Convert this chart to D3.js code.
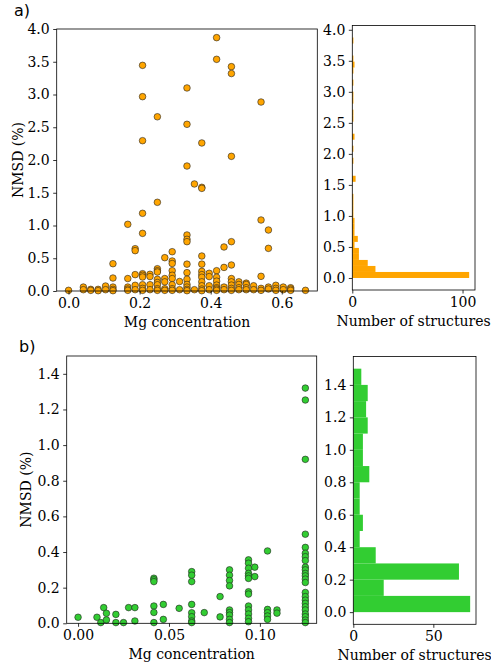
<!DOCTYPE html>
<html><head><meta charset="utf-8">
<script src="https://cdn.jsdelivr.net/npm/d3@7"></script>
<style>
html,body{margin:0;padding:0;background:#fff;}
text{font-family:"DejaVu Serif",serif;}
</style></head>
<body><svg id="c" width="491" height="668"></svg>
<script>
// ---------- DATA ----------
// Panel a: scatter (Mg concentration, NMSD %)
const mgA = [
 0,
 0.0417,0.0417,
 0.0625,0.0625,
 0.0833,0.0833,
 0.1042,0.1042,
 0.125,0.125,0.125,0.125,0.125,
 0.1667,0.1667,0.1667,0.1667,0.1667,
 0.1875,0.1875,0.1875,0.1875,0.1875,
 0.2083,0.2083,0.2083,0.2083,0.2083,0.2083,0.2083,0.2083,0.2083,0.2083,0.2083,
 0.2292,0.2292,0.2292,0.2292,
 0.25,0.25,0.25,0.25,0.25,0.25,0.25,0.25,0.25,0.25,
 0.2708,0.2708,0.2708,0.2708,0.2708,
 0.2917,0.2917,0.2917,0.2917,0.2917,0.2917,0.2917,0.2917,0.2917,
 0.3125,0.3125,
 0.3333,0.3333,0.3333,0.3333,0.3333,0.3333,0.3333,0.3333,0.3333,0.3333,0.3333,0.3333,0.3333,
 0.3542,0.3542,
 0.375,0.375,0.375,0.375,0.375,0.375,0.375,0.375,0.375,0.375,0.375,0.375,
 0.3958,0.3958,0.3958,0.3958,
 0.4167,0.4167,0.4167,0.4167,0.4167,0.4167,0.4167,0.4167,0.4167,
 0.4375,0.4375,0.4375,0.4375,
 0.4583,0.4583,0.4583,0.4583,0.4583,0.4583,0.4583,0.4583,0.4583,0.4583,
 0.4792,0.4792,0.4792,0.4792,
 0.5,0.5,0.5,0.5,
 0.5208,0.5208,
 0.5417,0.5417,0.5417,0.5417,0.5417,
 0.5625,0.5625,0.5625,0.5625,
 0.5833,0.5833,0.5833,
 0.6042,0.6042,
 0.625,0.625,0.625,
 0.6667
];
const nmsdA = [
 0.01,
 0.06,0.02,
 0.025,0.01,
 0.025,0.005,
 0.076,0.02,
 0.417,0.198,0.06,0.025,0.005,
 1.018,0.19,0.06,0.03,0.01,
 0.646,0.616,0.25,0.087,0.02,
 3.445,2.967,2.295,1.186,0.88,0.264,0.24,0.214,0.096,0.04,0.01,
 0.255,0.22,0.096,0.02,
 2.66,1.354,0.34,0.31,0.29,0.178,0.13,0.096,0.035,0.01,
 0.509,0.19,0.14,0.035,0.01,
 0.60,0.458,0.42,0.31,0.24,0.19,0.096,0.035,0.01,
 0.145,0.02,
 3.10,2.545,1.908,0.855,0.789,0.753,0.41,0.28,0.18,0.10,0.06,0.025,0.005,
 1.634,0.02,
 2.26,1.583,1.567,0.534,0.41,0.30,0.25,0.21,0.14,0.08,0.03,0.005,
 0.27,0.22,0.08,0.02,
 3.868,3.537,0.31,0.21,0.15,0.09,0.05,0.03,0.01,
 0.672,0.36,0.06,0.02,
 3.425,3.32,2.056,0.753,0.397,0.19,0.14,0.09,0.04,0.01,
 0.14,0.10,0.05,0.02,
 0.12,0.10,0.05,0.02,
 0.08,0.02,
 2.885,1.084,0.224,0.04,0.01,
 0.931,0.651,0.06,0.03,
 0.087,0.04,0.01,
 0.06,0.02,
 0.05,0.03,0.01,
 0.01
];
// Panel a: histogram counts (40 bins from 0 to 3.875)
const histAStart = 0, histAEnd = 3.875;
const histACounts = [106,21,14,6,6,2,5,2,2,2,1,1,1,1,0,0,3,0,0,1,0,1,0,2,0,0,1,1,0,1,1,0,1,0,1,2,1,0,0,1];

// Panel b: scatter
const mgB = [
 0,0.0104,0.0125,0.0141,0.0156,0.0156,0.0208,0.0208,0.025,0.0278,0.03125,0.03125,
 0.0417,0.0417,0.0417,0.0417,0.0417,0.0417,
 0.0469,0.0469,0.0556,
 0.0625,0.0625,0.0625,0.0625,0.0625,0.0625,0.0625,0.0625,
 0.0694,0.0781,0.0781,
 0.0833,0.0833,0.0833,0.0833,0.0833,0.0833,0.0833,0.0833,0.0833,
 0.09375,0.09375,0.09375,0.09375,0.09375,0.09375,0.09375,0.09375,0.09375,0.09375,0.09375,0.09375,0.09375,
 0.0972,0.0972,
 0.1042,0.1042,0.1042,0.1042,0.1042,
 0.1094,0.1094,
 0.125,0.125,0.125,0.125,0.125,0.125,0.125,0.125,0.125,0.125,0.125,0.125,0.125,0.125,0.125,0.125,0.125,0.125,0.125,0.125,0.125,0.125,0.125,0.125
];
const nmsdB = [
 0.034,0.034,0.004,0.088,0.056,0.019,0.05,0.004,0.004,0.088,0.088,0.013,
 0.253,0.244,0.234,0.097,0.061,0.004,
 0.106,0.022,0.084,
 0.29,0.27,0.234,0.106,0.059,0.037,0.013,0.004,
 0.06,0.15,0.036,
 0.30,0.27,0.24,0.21,0.075,0.06,0.046,0.022,0.004,
 0.356,0.337,0.309,0.28,0.266,0.252,0.177,0.164,0.097,0.075,0.052,0.028,0.009,
 0.315,0.262,
 0.406,0.078,0.06,0.041,0.022,
 0.075,0.057,
 1.32,1.253,0.92,0.5,0.426,0.393,0.374,0.352,0.315,0.30,0.28,0.266,0.248,0.229,0.173,0.15,0.13,0.112,0.093,0.075,0.052,0.037,0.018,0.004
];
// Panel b: histogram counts (15 bins from 0 to 1.5)
const histBStart = 0, histBEnd = 1.5;
const histBCounts = [73,19,66,14,4,6,4,4,10,6,6,9,8,9,5];

// Tick labels
const ticksAScatterX = [0.0,0.2,0.4,0.6];
const ticksAY = [0,0.5,1,1.5,2,2.5,3,3.5,4];
const ticksAHistX = [0,100];
const ticksBScatterX = [0.00,0.05,0.10];
const ticksBY = [0,0.2,0.4,0.6,0.8,1.0,1.2,1.4];
const ticksBHistX = [0,50];

const ORANGE = "#FFA500", GREEN = "#32CD32";

// ---------- DRAW ----------
const svg = d3.select("#c");
const FS = 14;

function frame(g, x0, y0, x1, y1){
  g.append("rect").attr("x",x0).attr("y",y0).attr("width",x1-x0).attr("height",y1-y0)
   .attr("fill","none").attr("stroke","#000").attr("stroke-width",0.8);
}
function styleAxis(sel){
  sel.select(".domain").remove();
  sel.selectAll(".tick line").attr("stroke","#000").attr("stroke-width",0.8);
  sel.selectAll(".tick text").attr("font-family","DejaVu Serif").attr("font-size",FS).attr("fill","#000");
}
function scatterPanel(box, xdom, ydom, xs, ys, color, xticks, xfmt, yticks, yfmt, ylabX){
  const x = d3.scaleLinear().domain(xdom).range([box.l, box.r]);
  const y = d3.scaleLinear().domain(ydom).range([box.b, box.t]);
  const g = svg.append("g");
  const clipId = "clip"+Math.round(box.t);
  svg.append("clipPath").attr("id",clipId).append("rect")
    .attr("x",box.l).attr("y",box.t-4).attr("width",box.r-box.l).attr("height",box.b-box.t+8);
  g.append("g").attr("clip-path",`url(#${clipId})`).selectAll("circle").data(xs.map((v,i)=>[v,ys[i]]))
    .join("circle").attr("cx",d=>x(d[0])).attr("cy",d=>y(d[1])).attr("r",3.3)
    .attr("fill",color).attr("stroke","#222").attr("stroke-width",0.6);
  frame(g, box.l, box.t, box.r, box.b);
  g.append("g").attr("transform",`translate(0,${box.b})`)
    .call(d3.axisBottom(x).tickValues(xticks).tickFormat(xfmt).tickSize(3.5).tickPadding(3.5)).call(styleAxis);
  g.append("g").attr("transform",`translate(${box.l},0)`)
    .call(d3.axisLeft(y).tickValues(yticks).tickFormat(yfmt).tickSize(3.5).tickPadding(3.5)).call(styleAxis);
  g.append("text").attr("x",(box.l+box.r)/2).attr("y",box.b+36).attr("text-anchor","middle")
    .attr("font-size",FS).text("Mg concentration");
  g.append("text").attr("transform",`translate(${ylabX},${(box.t+box.b)/2}) rotate(-90)`)
    .attr("text-anchor","middle").attr("dominant-baseline","central").attr("font-size",FS).text("NMSD (%)");
}
function histPanel(box, xdom, ydom, start, end, counts, color, xticks, yticks, yfmt){
  const x = d3.scaleLinear().domain(xdom).range([box.l, box.r]);
  const y = d3.scaleLinear().domain(ydom).range([box.b, box.t]);
  const w = (end-start)/counts.length;
  const bins = counts.map((c,i)=>({x0:start+i*w, x1:start+(i+1)*w, c}));
  const g = svg.append("g");
  g.selectAll("rect.bar").data(bins.filter(d=>d.c>0)).join("rect").attr("class","bar")
    .attr("x",x(0)).attr("y",d=>y(d.x1)).attr("width",d=>x(d.c)-x(0)).attr("height",d=>y(d.x0)-y(d.x1))
    .attr("fill",color);
  frame(g, box.l, box.t, box.r, box.b);
  g.append("g").attr("transform",`translate(0,${box.b})`)
    .call(d3.axisBottom(x).tickValues(xticks).tickFormat(d3.format("d")).tickSize(3.5).tickPadding(3.5)).call(styleAxis);
  g.append("g").attr("transform",`translate(${box.l},0)`)
    .call(d3.axisLeft(y).tickValues(yticks).tickFormat(yfmt).tickSize(3.5).tickPadding(3.5)).call(styleAxis);
  g.append("text").attr("x",(box.l+box.r)/2).attr("y",box.b+36).attr("text-anchor","middle")
    .attr("font-size",FS).text("Number of structures");
}

// Panel a
scatterPanel({l:56.7,r:317.3,t:29,b:291}, [-0.0333,0.7], [0,4], mgA, nmsdA, ORANGE,
  ticksAScatterX, d3.format(".1f"), ticksAY, d3.format(".1f"), 18);
const maxA = d3.max(histACounts), spanA = histAEnd-histAStart;
histPanel({l:352.3,r:475,t:25.5,b:290}, [0, maxA*1.05], [histAStart-0.05*spanA, histAEnd+0.05*spanA],
  histAStart, histAEnd, histACounts, ORANGE, ticksAHistX, ticksAY, d3.format(".1f"));

// Panel b
scatterPanel({l:66.7,r:316.7,t:356,b:623.3}, [-0.00625,0.13125], [0,1.5], mgB, nmsdB, GREEN,
  ticksBScatterX, d3.format(".2f"), ticksBY, d3.format(".1f"), 26);
const maxB = d3.max(histBCounts), spanB = histBEnd-histBStart;
histPanel({l:353.3,r:476,t:356.5,b:624.3}, [0, maxB*1.05], [histBStart-0.05*spanB, histBEnd+0.05*spanB],
  histBStart, histBEnd, histBCounts, GREEN, ticksBHistX, ticksBY, d3.format(".1f"));

// Panel letters
svg.append("text").attr("x",14).attr("y",16).style("font-family","DejaVu Sans")
  .attr("font-size",16).text("a)");
svg.append("text").attr("x",19).attr("y",352).style("font-family","DejaVu Sans")
  .attr("font-size",16).text("b)");
</script></body></html>
